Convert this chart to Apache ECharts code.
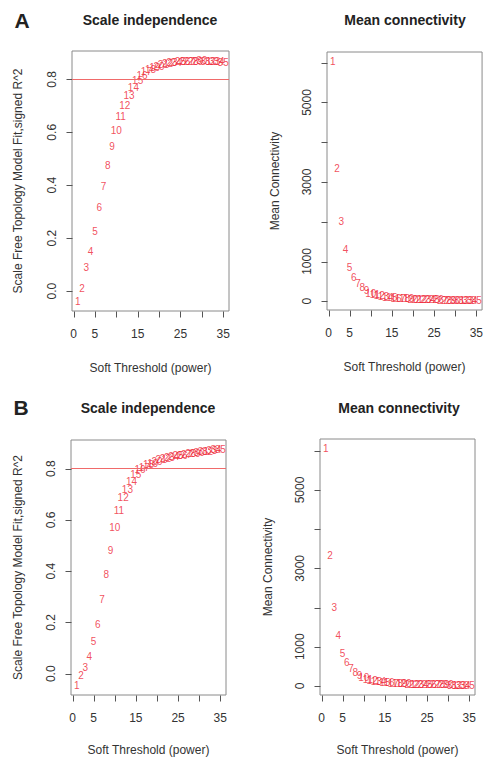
<!DOCTYPE html>
<html>
<head>
<meta charset="utf-8">
<script src="https://cdn.jsdelivr.net/npm/echarts@6/dist/echarts.min.js"></script>
<style>
  html, body { margin: 0; padding: 0; background: #fff; }
  #chart { width: 486px; height: 758px; }
</style>
</head>
<body>
<div id="chart"></div>
<script>
  // soft-threshold powers
  const powers = [1, 2, 3, 4, 5, 6, 7, 8, 9, 10, 11, 12, 13, 14, 15, 16, 17, 18, 19, 20,
    21, 22, 23, 24, 25, 26, 27, 28, 29, 30, 31, 32, 33, 34, 35]
  // panel A: scale free fit (signed R^2) and mean connectivity
  const fitA = [-0.04, 0.01, 0.09, 0.15, 0.225, 0.315, 0.395, 0.475, 0.545, 0.605,
    0.66, 0.70, 0.74, 0.77, 0.795, 0.815, 0.828, 0.838, 0.845, 0.85,
    0.855, 0.859, 0.862, 0.864, 0.866, 0.867, 0.868, 0.869, 0.869, 0.87,
    0.869, 0.869, 0.868, 0.867, 0.865]
  const connA = [6030, 3350, 2000, 1300, 860, 590, 450, 340, 260, 200,
    160, 135, 115, 100, 88, 78, 70, 63, 57, 52,
    48, 44, 41, 38, 35, 33, 31, 29, 27, 25,
    24, 22, 21, 20, 19]
  // panel B
  const fitB = [-0.047, -0.008, 0.023, 0.066, 0.124, 0.194, 0.291, 0.388, 0.48, 0.57,
    0.637, 0.687, 0.72, 0.752, 0.776, 0.795, 0.806, 0.815, 0.822, 0.828,
    0.834, 0.838, 0.842, 0.846, 0.85, 0.853, 0.856, 0.858, 0.861, 0.864,
    0.866, 0.868, 0.871, 0.873, 0.876]
  const connB = [6050, 3340, 1990, 1280, 840, 590, 450, 350, 270, 210,
    170, 140, 118, 102, 90, 80, 71, 64, 58, 53,
    48, 44, 41, 38, 35, 33, 31, 29, 27, 26,
    24, 23, 22, 21, 20]
  // R^2 cut line
  const cutHeight = 0.8
  // ticks and labels
  const xTicks = [0, 5, 10, 15, 20, 25, 30, 35]
  const xLabels = [0, 5, 15, 25, 35]
  const fitTicks = [0, 0.2, 0.4, 0.6, 0.8]
  const connTicks = [0, 1000, 2000, 3000, 4000, 5000, 6000]
  const connLabels = [0, 1000, 3000, 5000]

  const FONT = 'Liberation Sans, Arial, sans-serif'
  const RED = '#ee2233'
  const TEXT = '#333'
  const X_MIN = -0.36
  const X_MAX = 36.36
  const TICK_LEN = 6

  // y ranges per panel: A fit, A conn, B fit, B conn
  const yRanges = [[-0.075, 0.907], [-220, 6270], [-0.083, 0.912], [-230, 6300]]

  const chart = echarts.init(document.getElementById('chart'), null, { renderer: 'svg' })

  function xAxis (grid, nameGap) {
    return {
      type: 'value', gridIndex: grid, min: X_MIN, max: X_MAX, position: 'bottom',
      name: 'Soft Threshold (power)', nameLocation: 'middle', nameGap: nameGap,
      nameTextStyle: { fontFamily: FONT, fontSize: 12, color: TEXT },
      axisLine: { show: false, onZero: false },
      axisTick: { show: false },
      axisLabel: { customValues: xLabels, margin: 17, fontFamily: FONT, fontSize: 12, color: TEXT },
      splitLine: { show: false }
    }
  }

  function yAxis (grid, name, nameGap, labels, fmt) {
    return {
      type: 'value', gridIndex: grid, min: yRanges[grid][0], max: yRanges[grid][1], position: 'left',
      name: name, nameLocation: 'middle', nameGap: nameGap,
      nameTextStyle: { fontFamily: FONT, fontSize: 12, color: TEXT },
      axisLine: { show: false, onZero: false },
      axisTick: { show: false },
      axisLabel: { customValues: labels, rotate: 90, margin: 14, fontFamily: FONT, fontSize: 12, color: TEXT, formatter: fmt },
      splitLine: { show: false }
    }
  }

  // R style outward ticks, placed through the axes' own scales
  function tickSeries (grid, yTicks) {
    const yMin = yRanges[grid][0]
    const data = xTicks.map(v => [v, yMin, 0]).concat(yTicks.map(v => [X_MIN, v, 1]))
    return {
      type: 'custom', xAxisIndex: grid, yAxisIndex: grid, clip: false, silent: true, z: 1,
      data: data,
      renderItem: (params, api) => {
        const p = api.coord([api.value(0), api.value(1)])
        const vertical = api.value(2) === 0
        const px = Math.round(p[0]) + 0.5
        const py = Math.round(p[1]) + 0.5
        const shape = vertical
          ? { x1: px, y1: py, x2: px, y2: py + TICK_LEN }
          : { x1: px - TICK_LEN, y1: py, x2: px, y2: py }
        return { type: 'line', shape: shape, style: { stroke: '#555', lineWidth: 1 } }
      }
    }
  }

  function pointSeries (grid, values, withCut) {
    const s = {
      type: 'scatter', xAxisIndex: grid, yAxisIndex: grid,
      symbolSize: 1,
      itemStyle: { color: 'transparent' },
      label: {
        show: true, position: 'inside', fontFamily: FONT, fontSize: 10, color: RED,
        formatter: p => String(p.value[0])
      },
      data: powers.map((p, i) => [p, values[i]])
    }
    if (withCut) {
      s.markLine = {
        silent: true, symbol: 'none', label: { show: false },
        lineStyle: { color: '#f06a6a', width: 1, type: 'solid' },
        data: [{ yAxis: cutHeight }]
      }
    }
    return s
  }

  const fitFmt = v => v.toFixed(1)
  const connFmt = v => String(v)
  const gridStyle = { show: true, borderColor: '#8a8a8a', borderWidth: 1, backgroundColor: 'transparent' }

  const option = {
    animation: false,
    backgroundColor: '#fff',
    grid: [
      Object.assign({ left: 72, top: 51, width: 157, height: 260 }, gridStyle),
      Object.assign({ left: 327, top: 52, width: 157, height: 258 }, gridStyle),
      Object.assign({ left: 71, top: 440, width: 155, height: 255 }, gridStyle),
      Object.assign({ left: 320, top: 439, width: 155, height: 256 }, gridStyle)
    ],
    xAxis: [xAxis(0, 51), xAxis(1, 51), xAxis(2, 49), xAxis(3, 49)],
    yAxis: [
      yAxis(0, 'Scale Free Topology Model Fit,signed R^2', 48, fitTicks, fitFmt),
      yAxis(1, 'Mean Connectivity', 46, connLabels, connFmt),
      yAxis(2, 'Scale Free Topology Model Fit,signed R^2', 47, fitTicks, fitFmt),
      yAxis(3, 'Mean Connectivity', 46, connLabels, connFmt)
    ],
    series: [
      pointSeries(0, fitA, true),
      pointSeries(1, connA, false),
      pointSeries(2, fitB, true),
      pointSeries(3, connB, false),
      tickSeries(0, fitTicks),
      tickSeries(1, connTicks),
      tickSeries(2, fitTicks),
      tickSeries(3, connTicks)
    ],
    graphic: [
      { type: 'text', x: 22, y: 20, style: { text: 'A', fontFamily: FONT, fontSize: 21, fontWeight: 'bold', fill: '#222', align: 'center', verticalAlign: 'middle' } },
      { type: 'text', x: 150, y: 20, style: { text: 'Scale independence', fontFamily: FONT, fontSize: 14, fontWeight: 'bold', fill: '#222', align: 'center', verticalAlign: 'middle' } },
      { type: 'text', x: 405, y: 20, style: { text: 'Mean connectivity', fontFamily: FONT, fontSize: 14, fontWeight: 'bold', fill: '#222', align: 'center', verticalAlign: 'middle' } },
      { type: 'text', x: 21, y: 407, style: { text: 'B', fontFamily: FONT, fontSize: 21, fontWeight: 'bold', fill: '#222', align: 'center', verticalAlign: 'middle' } },
      { type: 'text', x: 148, y: 408, style: { text: 'Scale independence', fontFamily: FONT, fontSize: 14, fontWeight: 'bold', fill: '#222', align: 'center', verticalAlign: 'middle' } },
      { type: 'text', x: 399, y: 408, style: { text: 'Mean connectivity', fontFamily: FONT, fontSize: 14, fontWeight: 'bold', fill: '#222', align: 'center', verticalAlign: 'middle' } }
    ]
  }

  chart.setOption(option)
</script>
</body>
</html>
